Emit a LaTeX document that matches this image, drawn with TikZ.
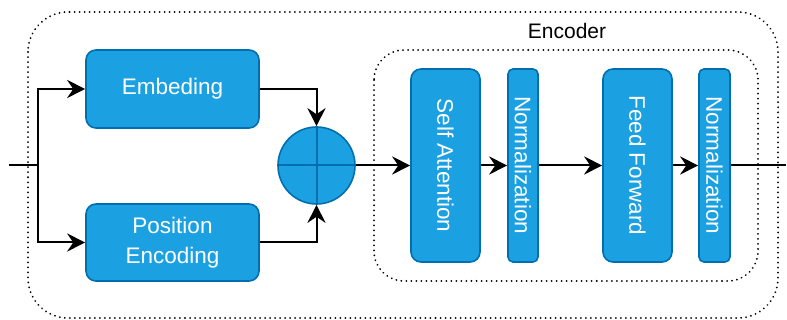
\documentclass[tikz,border=0pt]{standalone}
\usepackage{fontspec}
\setmainfont{Liberation Sans}
\usetikzlibrary{arrows.meta}
\definecolor{fillblue}{HTML}{1BA1E2}
\definecolor{strokeblue}{HTML}{006EAF}
\begin{document}
\begin{tikzpicture}[x=1pt,y=-1pt,
  blk/.style={draw=strokeblue,fill=fillblue,line width=1.6pt,rounded corners=10pt,text=white,
    font=\fontsize{22.5}{30}\selectfont,align=center,inner sep=0pt},
  thin/.style={blk,rounded corners=5pt},
  vtxt/.style={rotate=-90,text=white,font=\fontsize{22.5}{30}\selectfont},
  arr/.style={line width=2pt,-{Stealth[length=18pt,width=18pt,inset=6pt]}},
  ln/.style={line width=2pt},
  dotbox/.style={line width=2pt,dash pattern=on 0.01pt off 5pt,line cap=round}]
\useasboundingbox (0,0) rectangle (787,320);
\draw[dotbox,rounded corners=40pt] (28,12) rectangle (778,318);
\draw[dotbox,rounded corners=30pt] (374,50) rectangle (758,281);
\node[font=\fontsize{21}{25}\selectfont] (enc) at (567,31) {Encoder};
\node[blk,minimum width=173pt,minimum height=78pt] (emb) at (172.5,89) {Embeding};
\node[blk,minimum width=173pt,minimum height=77pt] (pos) at (172.5,242.5) {Position\\Encoding};
\node[circle,draw=strokeblue,fill=fillblue,line width=1.6pt,minimum size=77pt,inner sep=0pt] (add) at (316.5,165.5) {};
\draw[strokeblue,line width=2pt] (add.north) -- (add.south) (add.west) -- (add.east);
\node[blk,minimum width=69pt,minimum height=193pt] (sa) at (445.5,165.5) {};
\node[vtxt] (satxt) at (sa.center) {Self Attention};
\node[thin,minimum width=30pt,minimum height=193pt] (n1) at (523,165.5) {};
\node[vtxt] (n1txt) at (n1.center) {Normalization};
\node[blk,minimum width=69pt,minimum height=193pt] (ff) at (637.5,165.5) {};
\node[vtxt] (fftxt) at (ff.center) {Feed Forward};
\node[thin,minimum width=31pt,minimum height=193pt] (n2) at (714.5,165.5) {};
\node[vtxt] (n2txt) at (n2.center) {Normalization};
\coordinate (in) at (9,165.5);
\coordinate (br) at (38,165.5);
\coordinate (out) at (786,165.5);
\draw[ln] (in) -- (br);
\draw[arr] (br) |- (emb.west);
\draw[arr] (br) |- (pos.west);
\draw[arr] (emb.east) -| (add.north);
\draw[arr] (pos.east) -| (add.south);
\draw[arr] (add.east) -- (sa.west);
\draw[arr] (sa.east) -- (n1.west);
\draw[arr] (n1.east) -- (ff.west);
\draw[arr] (ff.east) -- (n2.west);
\draw[ln] (n2.east) -- (out);
\end{tikzpicture}
\end{document}
